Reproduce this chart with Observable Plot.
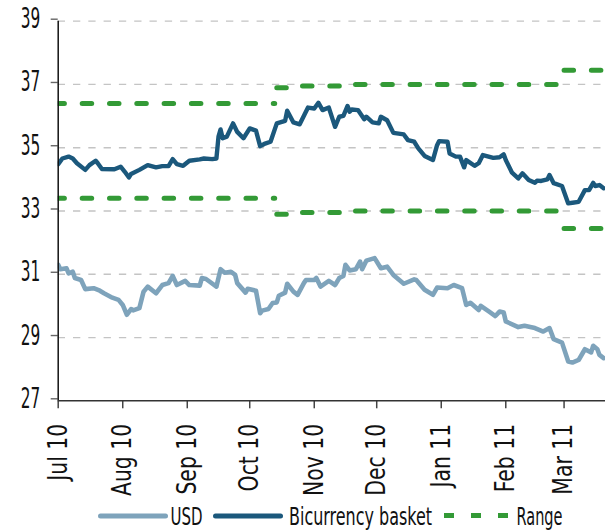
<!DOCTYPE html>
<html>
<head>
<meta charset="utf-8">
<script src="https://cdn.jsdelivr.net/npm/d3@7"></script>
<script src="https://cdn.jsdelivr.net/npm/@observablehq/plot@0.6"></script>
<style>
  body { margin: 0; background: #fff; }
  #chart { width: 605px; height: 531px; position: relative; overflow: hidden; }
  #chart svg { display: block; }
</style>
</head>
<body>
<div id="chart"></div>
<script>
// ---- Data ----
const usdDates = ["2010-07-01","2010-07-02","2010-07-05","2010-07-06","2010-07-08","2010-07-09","2010-07-12","2010-07-14","2010-07-18","2010-07-21","2010-07-23","2010-07-27","2010-07-30","2010-08-01","2010-08-03","2010-08-05","2010-08-06","2010-08-09","2010-08-11","2010-08-13","2010-08-17","2010-08-20","2010-08-23","2010-08-25","2010-08-27","2010-08-31","2010-09-02","2010-09-07","2010-09-08","2010-09-10","2010-09-15","2010-09-17","2010-09-19","2010-09-22","2010-09-24","2010-09-25","2010-09-29","2010-09-30","2010-10-04","2010-10-06","2010-10-07","2010-10-10","2010-10-12","2010-10-14","2010-10-15","2010-10-18","2010-10-19","2010-10-22","2010-10-24","2010-10-27","2010-10-28","2010-11-01","2010-11-02","2010-11-04","2010-11-08","2010-11-11","2010-11-13","2010-11-15","2010-11-16","2010-11-18","2010-11-21","2010-11-23","2010-11-24","2010-11-26","2010-11-30","2010-12-03","2010-12-06","2010-12-09","2010-12-14","2010-12-19","2010-12-20","2010-12-24","2010-12-28","2010-12-30","2011-01-04","2011-01-07","2011-01-11","2011-01-13","2011-01-15","2011-01-19","2011-01-20","2011-01-24","2011-01-27","2011-01-29","2011-01-31","2011-02-01","2011-02-07","2011-02-10","2011-02-15","2011-02-19","2011-02-22","2011-02-24","2011-02-28","2011-03-03","2011-03-05","2011-03-08","2011-03-11","2011-03-14","2011-03-15","2011-03-17","2011-03-18","2011-03-20"];
const usdValues = [31.30,31.16,31.19,31.03,31.08,30.88,30.82,30.53,30.56,30.48,30.40,30.26,30.19,30.03,29.72,29.90,29.86,29.93,30.45,30.61,30.40,30.66,30.72,30.95,30.66,30.79,30.66,30.64,30.88,30.85,30.61,31.16,31.05,31.08,30.98,30.72,30.42,30.54,30.48,29.77,29.85,29.90,30.09,30.11,30.32,30.42,30.70,30.45,30.35,30.72,30.82,30.82,30.88,30.61,30.79,30.66,30.88,30.95,31.30,31.12,31.16,31.40,31.16,31.43,31.51,31.19,31.24,30.98,30.70,30.84,30.82,30.51,30.35,30.58,30.56,30.66,30.56,30.03,30.10,29.87,30.00,29.82,29.68,29.82,29.79,29.51,29.33,29.37,29.30,29.19,29.30,28.95,28.84,28.24,28.21,28.29,28.63,28.53,28.74,28.63,28.45,28.35];

const basketDates = ["2010-07-01","2010-07-03","2010-07-06","2010-07-08","2010-07-10","2010-07-14","2010-07-16","2010-07-19","2010-07-20","2010-07-22","2010-07-28","2010-07-31","2010-08-02","2010-08-04","2010-08-05","2010-08-09","2010-08-13","2010-08-17","2010-08-20","2010-08-23","2010-08-25","2010-08-27","2010-08-30","2010-09-02","2010-09-07","2010-09-09","2010-09-13","2010-09-15","2010-09-16","2010-09-17","2010-09-18","2010-09-20","2010-09-23","2010-09-25","2010-09-28","2010-10-01","2010-10-04","2010-10-06","2010-10-08","2010-10-11","2010-10-14","2010-10-18","2010-10-19","2010-10-22","2010-10-25","2010-10-29","2010-11-01","2010-11-03","2010-11-05","2010-11-08","2010-11-11","2010-11-13","2010-11-15","2010-11-17","2010-11-18","2010-11-19","2010-11-22","2010-11-25","2010-11-26","2010-11-29","2010-12-02","2010-12-03","2010-12-06","2010-12-09","2010-12-14","2010-12-16","2010-12-19","2010-12-21","2010-12-24","2010-12-28","2010-12-30","2010-12-31","2011-01-04","2011-01-05","2011-01-08","2011-01-10","2011-01-12","2011-01-13","2011-01-17","2011-01-19","2011-01-21","2011-01-26","2011-01-29","2011-01-31","2011-02-01","2011-02-04","2011-02-07","2011-02-09","2011-02-12","2011-02-15","2011-02-16","2011-02-18","2011-02-21","2011-02-22","2011-02-24","2011-02-28","2011-03-03","2011-03-05","2011-03-08","2011-03-11","2011-03-13","2011-03-15","2011-03-16","2011-03-18","2011-03-20"];
const basketValues = [34.48,34.66,34.72,34.66,34.51,34.30,34.45,34.59,34.51,34.33,34.32,34.40,34.24,34.06,34.17,34.30,34.45,34.38,34.42,34.42,34.64,34.48,34.43,34.59,34.63,34.66,34.64,34.66,35.35,35.58,35.30,35.35,35.77,35.50,35.30,35.61,35.54,35.05,35.12,35.19,35.77,35.85,36.17,35.80,35.74,36.27,36.24,36.42,36.19,36.27,35.66,35.98,36.01,36.32,36.14,36.21,36.19,35.90,35.98,35.80,35.77,35.98,35.87,35.47,35.42,35.24,35.19,34.98,34.74,34.61,35.08,35.21,35.19,34.82,34.72,34.72,34.38,34.61,34.43,34.51,34.77,34.68,34.70,34.79,34.61,34.21,34.03,34.19,33.98,33.89,33.96,33.95,34.00,34.14,33.88,33.79,33.24,33.26,33.29,33.66,33.66,33.89,33.79,33.82,33.72];

// Corridor (Range): segment id, dates, upper and lower bounds (step-after)
const rangeSegment = ["A","A","B","B","B","B","C","C"];
const rangeDates   = ["2010-07-01","2010-10-13","2010-10-14","2010-10-22","2010-11-18","2011-02-28","2011-03-01","2011-03-22"];
const rangeUpper   = [36.40,36.40,36.90,36.95,37.00,37.00,37.45,37.45];
const rangeLower   = [33.40,33.40,32.90,32.95,33.00,33.00,32.45,32.45];

const yTicks = [27, 29, 31, 33, 35, 37, 39];
const monthTicks = ["2010-07-01","2010-08-01","2010-09-01","2010-10-01","2010-11-01","2010-12-01","2011-01-01","2011-02-01","2011-03-01"];
const xDomain = ["2010-07-01","2011-03-20T21:36:00Z"];
const seriesNames = ["USD", "Bicurrency basket", "Range"];
const seriesColors = ["#7ea3bb", "#1b587c", "#339a36"];

// ---- Build tables ----
const usd = usdDates.map((d, i) => ({date: new Date(d), value: usdValues[i]}));
const basket = basketDates.map((d, i) => ({date: new Date(d), value: basketValues[i]}));
const range = [];
rangeDates.forEach((d, i) => {
  range.push({date: new Date(d), value: rangeUpper[i], key: rangeSegment[i] + "-up", seg: rangeSegment[i]});
  range.push({date: new Date(d), value: rangeLower[i], key: rangeSegment[i] + "-lo", seg: rangeSegment[i]});
});
const x0 = new Date(xDomain[0]);

const FONT = "'DejaVu Sans Condensed', 'Liberation Sans Narrow', sans-serif";

const dashOpts = {x: "date", y: "value", z: "key", curve: "step-after",
  stroke: seriesColors[2], strokeWidth: 5, strokeDasharray: "9.5,17.8", clip: true};

const svg = Plot.plot({
  width: 605,
  height: 500,
  marginLeft: 57.7,
  marginRight: 0,
  marginTop: 20.7,
  marginBottom: 99.7,
  style: {fontFamily: FONT, background: "#fff", overflow: "visible"},
  x: {type: "utc", domain: xDomain.map(d => new Date(d))},
  y: {domain: [27, 39]},
  marks: [
    Plot.gridY(yTicks.filter(v => v > 27), {stroke: "#c4c4c4", strokeOpacity: 1, strokeWidth: 1.3, strokeDasharray: "7.3,8"}),
    Plot.line(range.filter(r => r.seg === "A"), {...dashOpts, strokeDashoffset: 3.3}),
    Plot.line(range.filter(r => r.seg !== "A"), dashOpts),
    Plot.line(usd, {x: "date", y: "value", stroke: seriesColors[0], strokeWidth: 4.6, strokeLinejoin: "round", strokeLinecap: "round", clip: true}),
    Plot.line(basket, {x: "date", y: "value", stroke: seriesColors[1], strokeWidth: 4.4, strokeLinejoin: "round", strokeLinecap: "round", clip: true}),
    Plot.axisY({ticks: yTicks, tickSize: 7, tickPadding: 11, fontSize: 28, dy: -2, stroke: "#666", strokeWidth: 1.4, fill: "#111", fontWeight: 500, label: null}),
    Plot.axisX({ticks: monthTicks.map(d => new Date(d)), tickFormat: d3.utcFormat("%b %y"), tickRotate: -90,
      tickSize: 8, tickPadding: 15, fontSize: 26, stroke: "#444", strokeWidth: 1.5, fill: "#111", fontWeight: 500, label: null}),
    Plot.ruleX([x0], {stroke: "#111", strokeWidth: 1.5}),
    Plot.ruleY([27], {stroke: "#333", strokeWidth: 1.5})
  ]
});

const chart = document.getElementById("chart");
chart.appendChild(svg);

// condense tick labels to mimic the narrow typeface of the original
function condense(selector, refIndex, target) {
  const nodes = d3.select(svg).selectAll(selector).nodes();
  if (!nodes.length) return;
  const ref = nodes[Math.min(refIndex, nodes.length - 1)].getComputedTextLength();
  const f = Math.min(1, target / ref);
  for (const n of nodes) {
    const w = n.getComputedTextLength();
    n.setAttribute("textLength", (w * f).toFixed(1));
    n.setAttribute("lengthAdjust", "spacingAndGlyphs");
  }
}
condense('g[aria-label="y-axis tick label"] text', 0, 19.5);
condense('g[aria-label="x-axis tick label"] text', 0, 57);

// ---- Legend (below the plot) ----
const ns = "http://www.w3.org/2000/svg";
const leg = d3.create("svg").attr("xmlns", ns).attr("width", 605).attr("height", 31)
  .style("font-family", FONT).style("display", "block");
const items = [
  {name: seriesNames[0], color: seriesColors[0], x1: 100.5, x2: 165.5, tx: 170.5, tw: 32, dash: null},
  {name: seriesNames[1], color: seriesColors[1], x1: 215.5, x2: 280.5, tx: 289, tw: 143, dash: null},
  {name: seriesNames[2], color: seriesColors[2], x1: 444, x2: 510, tx: 516.5, tw: 46, dash: "10,17"}
];
for (const it of items) {
  const ln = leg.append("line").attr("x1", it.x1).attr("x2", it.x2).attr("y1", 16).attr("y2", 16)
    .attr("stroke", it.color).attr("stroke-width", 5);
  if (it.dash) ln.attr("stroke-dasharray", it.dash).attr("y1", 15.5).attr("y2", 15.5);
  else ln.attr("stroke-linecap", "round");
  leg.append("text").attr("x", it.tx).attr("y", 25).attr("font-size", 25).attr("font-weight", 500).attr("fill", "#111")
    .attr("textLength", it.tw).attr("lengthAdjust", "spacingAndGlyphs").text(it.name);
}
chart.appendChild(leg.node());
</script>
</body>
</html>
